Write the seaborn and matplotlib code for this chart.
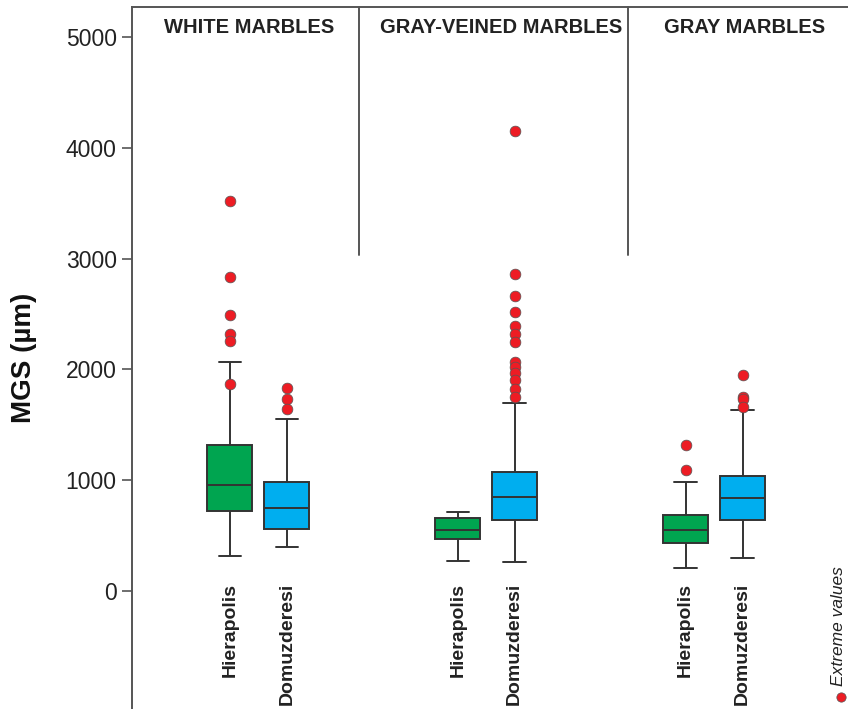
import numpy as np
import pandas as pd
import matplotlib.pyplot as plt
import seaborn as sns

# Marble groups and quarry sites
groups = ['WHITE MARBLES', 'GRAY-VEINED MARBLES', 'GRAY MARBLES']
sites = ['Hierapolis', 'Domuzderesi']

# Box statistics: lower whisker, Q1, median, Q3, upper whisker (MGS, µm)
white_hier = [320, 720, 955, 1320, 2065]
white_domu = [395, 562, 750, 982, 1553]
veined_hier = [275, 466, 551, 659, 713]
veined_domu = [262, 641, 846, 1077, 1697]
gray_hier = [208, 437, 548, 686, 984]
gray_domu = [301, 638, 839, 1041, 1634]

# Extreme values (red dots)
white_hier_ext = [3520, 2830, 2490, 2320, 2260, 1870]
white_domu_ext = [1830, 1735, 1645]
veined_hier_ext = []
veined_domu_ext = [4155, 2860, 2660, 2520, 2390, 2320, 2250, 2065, 2025, 1965, 1905, 1825, 1750]
gray_hier_ext = [1320, 1095]
gray_domu_ext = [1950, 1750, 1730, 1660]

y_ticks = [0, 1000, 2000, 3000, 4000, 5000]

box_stats = {
    ('WHITE MARBLES', 'Hierapolis'): white_hier,
    ('WHITE MARBLES', 'Domuzderesi'): white_domu,
    ('GRAY-VEINED MARBLES', 'Hierapolis'): veined_hier,
    ('GRAY-VEINED MARBLES', 'Domuzderesi'): veined_domu,
    ('GRAY MARBLES', 'Hierapolis'): gray_hier,
    ('GRAY MARBLES', 'Domuzderesi'): gray_domu,
}
extremes = {
    ('WHITE MARBLES', 'Hierapolis'): white_hier_ext,
    ('WHITE MARBLES', 'Domuzderesi'): white_domu_ext,
    ('GRAY-VEINED MARBLES', 'Hierapolis'): veined_hier_ext,
    ('GRAY-VEINED MARBLES', 'Domuzderesi'): veined_domu_ext,
    ('GRAY MARBLES', 'Hierapolis'): gray_hier_ext,
    ('GRAY MARBLES', 'Domuzderesi'): gray_domu_ext,
}

# five numbers per box -> quartiles and whiskers come out exactly with whis=(0, 100)
rows = []
for (g, s), vals in box_stats.items():
    for v in vals:
        rows.append({'group': g, 'site': s, 'mgs': v})
df = pd.DataFrame(rows)

box_width = 0.5
offsets = {'Hierapolis': -box_width / 4, 'Domuzderesi': box_width / 4}

ext_rows = []
for (g, s), vals in extremes.items():
    for v in vals:
        ext_rows.append({'x': groups.index(g) + offsets[s], 'mgs': v})
df_ext = pd.DataFrame(ext_rows)

sns.set_style('ticks')
plt.rcParams['font.family'] = ['Liberation Sans', 'DejaVu Sans']

dark = '#333333'
spine_col = '#555555'

fig = plt.figure(figsize=(8.48, 7.09), dpi=100)
ax = fig.add_axes([132 / 848, 0.0, 1 - 132 / 848, 1 - 7 / 709])

sns.boxplot(data=df, x='group', y='mgs', hue='site', order=groups, hue_order=sites,
            palette={'Hierapolis': '#00A550', 'Domuzderesi': '#00AEEF'},
            width=box_width, gap=0.21, whis=(0, 100), fliersize=0,
            linewidth=1.4, linecolor=dark, saturation=1, legend=False, ax=ax)

sns.scatterplot(data=df_ext, x='x', y='mgs', color='#ED1C24', s=60,
                edgecolor='#555555', linewidth=0.5, zorder=4, legend=False, ax=ax)

ax.set_xlim(-0.555, 2.588)
ax.set_ylim(-1065, 5271)
ax.set_xticks([])
ax.set_xlabel('')
ax.set_yticks(y_ticks)
ax.set_yticklabels([str(t) for t in y_ticks], fontsize=16.5, color='#222222')
ax.tick_params(axis='y', length=7, width=1.2, color=spine_col, pad=4)
ax.set_ylabel('MGS (µm)', fontsize=20, fontweight='bold', labelpad=21, color='#111111')

for side in ['right', 'bottom']:
    ax.spines[side].set_visible(False)
for side in ['left', 'top']:
    ax.spines[side].set_color(spine_col)
    ax.spines[side].set_linewidth(1.4)

# panel dividers in the upper part
for xd in [0.441, 1.622]:
    ax.plot([xd, xd], [3030, 5271], color=spine_col, lw=1.4, clip_on=False)

# panel titles
title_x = [-0.041, 1.064, 2.134]
for tx, g in zip(title_x, groups):
    ax.text(tx, 5036, g, ha='center', va='baseline', fontsize=14.5,
            fontweight='bold', color='#222222')

# site labels under each box
for gi, g in enumerate(groups):
    for s in sites:
        ax.text(gi + offsets[s], 72, s, rotation=90, ha='center', va='top',
                fontsize=14, fontweight='bold', color='#222222')

# legend for extreme values
ax.scatter([0.9898], [0.0171], transform=ax.transAxes, color='#ED1C24', s=45,
           edgecolor='#555555', linewidth=0.5, clip_on=False)
ax.text(0.9872, 0.0328, 'Extreme values', transform=ax.transAxes, rotation=90,
        ha='center', va='bottom', fontsize=12.5, fontstyle='italic', color='#222222')

fig.savefig('out.png', dpi=100)
